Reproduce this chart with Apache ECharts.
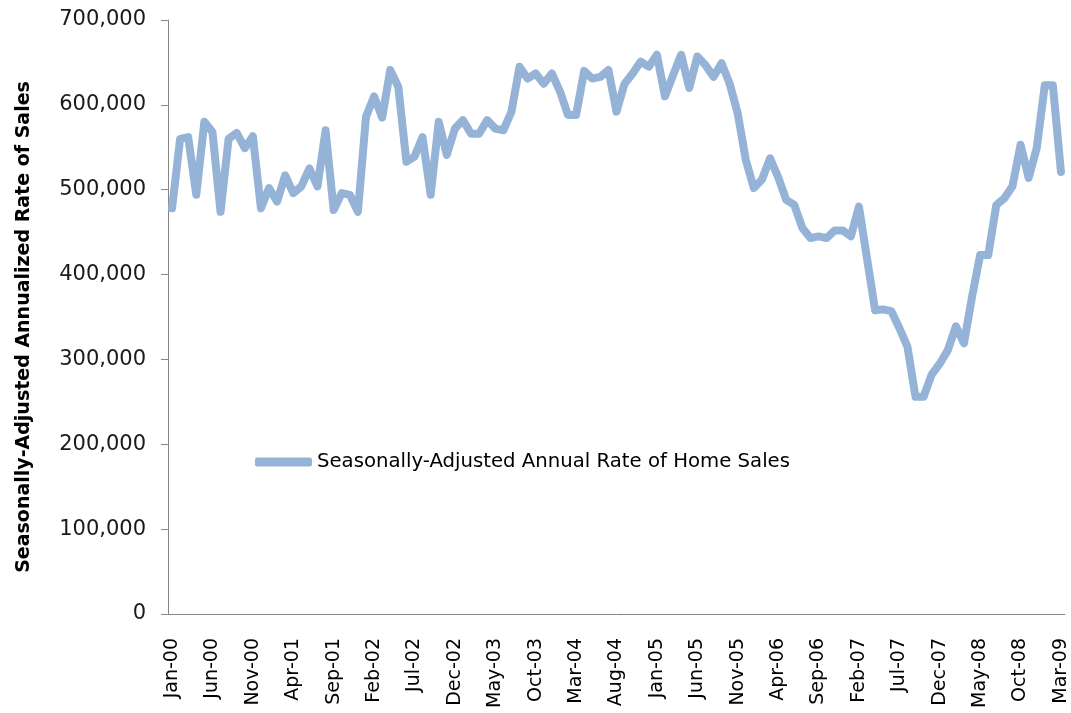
<!DOCTYPE html>
<html>
<head>
<meta charset="utf-8">
<script src="https://cdn.jsdelivr.net/npm/echarts@6/dist/echarts.min.js"></script>
<style>
  html, body { margin: 0; padding: 0; background: #fff; }
  #chart { width: 1071px; height: 713px; }
</style>
</head>
<body>
<div id="chart"></div>
<script>
// monthly categories Jan-00 .. Mar-09
const monthNames = ['Jan', 'Feb', 'Mar', 'Apr', 'May', 'Jun', 'Jul', 'Aug', 'Sep', 'Oct', 'Nov', 'Dec'];
const years = ['00', '01', '02', '03', '04', '05', '06', '07', '08', '09'];
const months = [];
years.forEach(y => monthNames.forEach(m => months.push(m + '-' + y)));
months.length = 111; // stop at Mar-09

// seasonally-adjusted annual rate, thousands of homes
const salesK = [
  478, 560, 562, 494, 580, 568, 474, 560, 567, 549,
  563, 478, 502, 486, 517, 496, 504, 525, 504, 570,
  476, 496, 494, 474, 586, 610, 585, 641, 621, 533,
  539, 562, 494, 580, 541, 572, 582, 566, 566, 582,
  572, 570, 592, 645, 631, 637, 625, 637, 616, 588,
  588, 640, 631, 633, 641, 592, 625, 637, 651, 645,
  659, 610, 635, 659, 620, 657, 647, 633, 649, 625,
  590, 535, 502, 512, 537, 515, 488, 482, 455, 443,
  445, 443, 452, 452, 445, 480, 419, 358, 359, 357,
  337, 315, 256, 256, 282, 295, 311, 339, 319, 374,
  423, 423, 482, 490, 504, 553, 514, 549, 623, 623,
  521
];
const sales = salesK.map(v => v * 1000);

const seriesName = 'Seasonally-Adjusted Annual Rate of Home Sales';
const yTitle = 'Seasonally-Adjusted Annualized Rate of Sales';

const chart = echarts.init(document.getElementById('chart'));
const axisGray = '#868686';
const font = 'DejaVu Sans';

chart.setOption({
  animation: false,
  grid: { left: 168, right: 6, top: 20, bottom: 99, containLabel: false },
  legend: {
    left: 255,
    top: 452,
    padding: 0,
    icon: 'roundRect',
    itemWidth: 57,
    itemHeight: 9,
    textStyle: { fontFamily: font, fontSize: 19.7, color: '#000' },
    data: [seriesName]
  },
  xAxis: {
    type: 'category',
    data: months,
    boundaryGap: true,
    axisLine: { lineStyle: { color: axisGray, width: 1 } },
    axisTick: { interval: 4, length: 6, lineStyle: { color: axisGray } },
    axisLabel: {
      interval: 4,
      rotate: 90,
      margin: 24,
      fontFamily: font,
      fontSize: 19,
      color: '#000'
    },
    splitLine: { show: false }
  },
  yAxis: {
    type: 'value',
    min: 0,
    max: 700000,
    interval: 100000,
    name: yTitle,
    nameLocation: 'middle',
    nameGap: 134,
    nameTextStyle: {
      fontFamily: font, fontSize: 19, fontWeight: 'bold', color: '#000',
      padding: [0, 20, 0, 0]
    },
    axisLine: { show: true, lineStyle: { color: axisGray, width: 1 } },
    axisTick: { show: true, length: 7, lineStyle: { color: axisGray } },
    axisLabel: {
      margin: 22,
      fontFamily: font,
      fontSize: 21,
      color: '#1a1a1a',
      formatter: v => v.toLocaleString('en-US')
    },
    splitLine: { show: false }
  },
  series: [{
    name: seriesName,
    type: 'line',
    data: sales,
    symbol: 'none',
    smooth: false,
    color: '#95b3d7',
    lineStyle: { color: '#95b3d7', width: 8, cap: 'round', join: 'round' }
  }]
});
</script>
</body>
</html>
